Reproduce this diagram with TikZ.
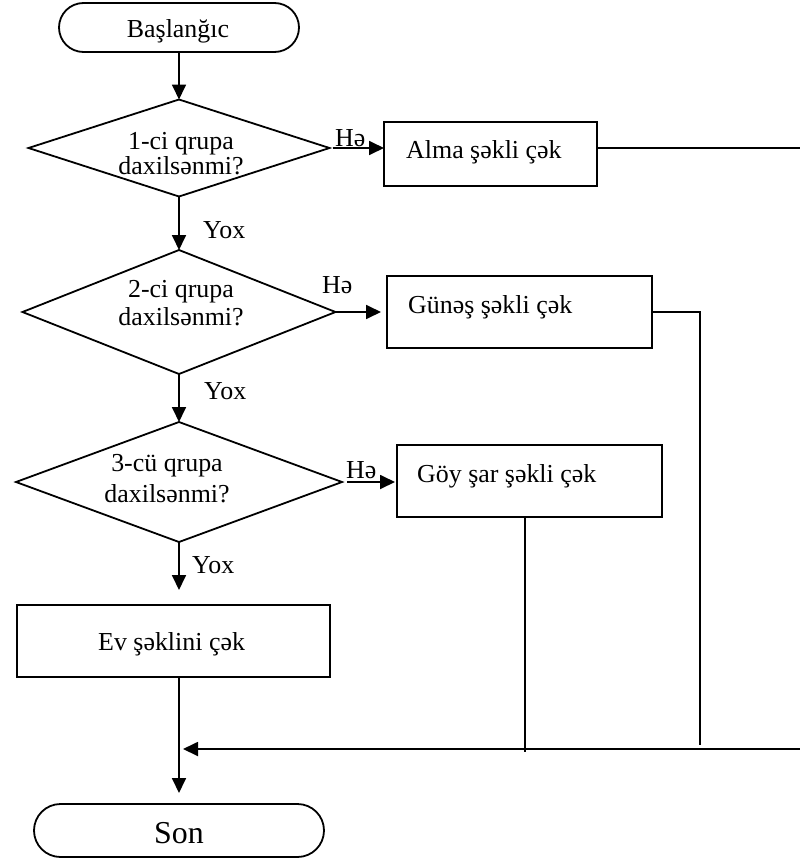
\documentclass[tikz,border=0pt]{standalone}
\usepackage{fontspec}
\setmainfont{Liberation Serif}
\usetikzlibrary{shapes.geometric,shapes.misc,arrows.meta}
\begin{document}
\begin{tikzpicture}[x=1bp,y=-1bp,
  lw/.style={line width=1.8bp},
  term/.style={draw,lw,rounded rectangle,inner sep=0pt,outer sep=0pt},
  dec/.style={draw,lw,diamond,inner sep=0pt,outer sep=0pt},
  proc/.style={draw,lw,rectangle,inner sep=0pt,outer sep=0pt},
  txt/.style={inner sep=0pt,font=\fontsize{26}{26}\selectfont},
  bigtxt/.style={inner sep=0pt,font=\fontsize{32}{32}\selectfont},
  arr/.style={lw,-{Triangle[length=15bp,width=14bp]}},
  conn/.style={lw},
  thinconn/.style={line width=1.3bp},
]
\useasboundingbox (0,0) rectangle (800,859);

% terminals
\node[term,minimum width=240bp,minimum height=49bp] (start) at (179,27.5) {};
\node[txt,anchor=base] (startt) at (178,37) {Başlanğıc};
\node[term,minimum width=290bp,minimum height=53bp] (son) at (179,830.5) {};
\node[bigtxt,anchor=base] (sont) at (179,843) {Son};

% decisions
\node[dec,minimum width=301bp,minimum height=97bp] (d1) at (179,148) {};
\node[txt,anchor=base] (d1a) at (181,149) {1-ci qrupa};
\node[txt,anchor=base] (d1b) at (181,174) {daxilsənmi?};

\node[dec,minimum width=313bp,minimum height=124bp] (d2) at (179,312) {};
\node[txt,anchor=base] (d2a) at (181,297) {2-ci qrupa};
\node[txt,anchor=base] (d2b) at (181,325) {daxilsənmi?};

\node[dec,minimum width=326bp,minimum height=120bp] (d3) at (179,482) {};
\node[txt,anchor=base] (d3a) at (167,471) {3-cü qrupa};
\node[txt,anchor=base] (d3b) at (167,502) {daxilsənmi?};

% process boxes
\node[proc,minimum width=213bp,minimum height=64bp] (b1) at (490.5,154) {};
\node[txt,anchor=base west] (b1t) at (406,158) {Alma şəkli çək};
\node[proc,minimum width=265bp,minimum height=72bp] (b2) at (519.5,312) {};
\node[txt,anchor=base west] (b2t) at (408,313) {Günəş şəkli çək};
\node[proc,minimum width=265bp,minimum height=72bp] (b3) at (529.5,481) {};
\node[txt,anchor=base west] (b3t) at (417,482) {Göy şar şəkli çək};
\node[proc,minimum width=313bp,minimum height=72bp] (b4) at (173.5,641) {};
\node[txt,anchor=base west] (b4t) at (98,650) {Ev şəklini çək};

% labels
\node[txt,anchor=base west] (h1) at (335,146) {Hə};
\node[txt,anchor=base west] (h2) at (322,293) {Hə};
\node[txt,anchor=base west] (h3) at (346,478) {Hə};
\node[txt,anchor=base west] (y1) at (203,238) {Yox};
\node[txt,anchor=base west] (y2) at (204,399) {Yox};
\node[txt,anchor=base west] (y3) at (192,573) {Yox};

% helper coordinates
\coordinate (r1) at (800,148);
\coordinate (r4) at (800,749);
\coordinate (v2) at (700,312);
\coordinate (v2b) at (700,745);
\coordinate (v3b) at (525,752);
\coordinate (m) at (179,749);

% main flow
\draw[arr] (start.south) -- (d1.north);
\draw[arr] (d1.south) -- (d2.north);
\draw[arr] (d2.south) -- (d3.north);
\draw[arr,shorten >=15bp] (d3.south) -- (d3.south |- b4.north);
\draw[arr,shorten >=11bp] (b4.south -| son.north) -- (son.north);

% yes branches
\draw[arr,shorten <=3bp] (d1.east) -- (d1.east -| b1.west);
\draw[arr,shorten >=6bp] (d2.east) -- (d2.east -| b2.west);
\draw[arr,shorten <=5bp,shorten >=2bp] (d3.east) -- (d3.east -| b3.west);

% return lines
\draw[conn] (d1.east -| b1.east) -- (r1);
\draw[conn] (b2.east) -- (v2) -- (v2b);
\draw[thinconn] (b3.south -| v3b) -- (v3b);
\draw[arr,shorten >=4bp] (r4) -- (m);
\end{tikzpicture}
\end{document}
